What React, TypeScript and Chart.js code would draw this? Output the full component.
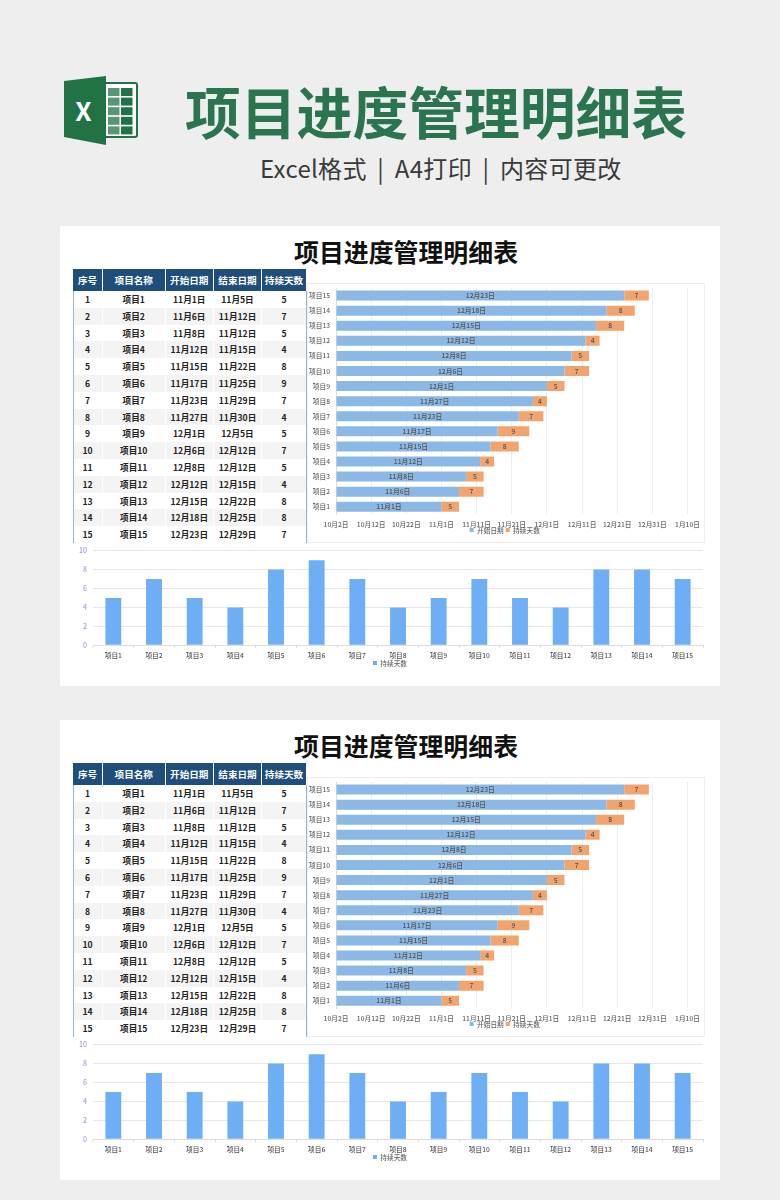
import React, { useEffect, useRef } from "react";
import { Chart, registerables } from "chart.js";

Chart.register(...registerables);

const FONT = "'Noto Sans CJK SC', 'Noto Sans', sans-serif";

const projects = ["项目1", "项目2", "项目3", "项目4", "项目5", "项目6", "项目7", "项目8", "项目9", "项目10", "项目11", "项目12", "项目13", "项目14", "项目15"];
const startLabels = ["11月1日", "11月6日", "11月8日", "11月12日", "11月15日", "11月17日", "11月23日", "11月27日", "12月1日", "12月6日", "12月8日", "12月12日", "12月15日", "12月18日", "12月23日"];
const endLabels = ["11月5日", "11月12日", "11月12日", "11月15日", "11月22日", "11月25日", "11月29日", "11月30日", "12月5日", "12月12日", "12月12日", "12月15日", "12月22日", "12月25日", "12月29日"];
// days counted from 10月2日, the start of the gantt axis
const startDays = [30, 35, 37, 41, 44, 46, 52, 56, 60, 65, 67, 71, 74, 77, 82];
const durations = [5, 7, 5, 4, 8, 9, 7, 4, 5, 7, 5, 4, 8, 8, 7];
const ganttTicks = ["10月2日", "10月12日", "10月22日", "11月1日", "11月11日", "11月21日", "12月1日", "12月11日", "12月21日", "12月31日", "1月10日"];
const tableHead = ["序号", "项目名称", "开始日期", "结束日期", "持续天数"];
const columnEdges = [[73, 102], [103, 164.5], [165.5, 213], [214, 261], [262, 306]];

const ganttLabels = {
  id: "ganttLabels",
  afterDatasetsDraw(chart: any) {
    const { ctx } = chart;
    ctx.save();
    ctx.font = `500 6.8px ${FONT}`;
    ctx.fillStyle = "#555555";
    ctx.textAlign = "center";
    ctx.textBaseline = "middle";
    chart.data.datasets.forEach((ds: any, di: number) => {
      chart.getDatasetMeta(di).data.forEach((el: any, i: number) => {
        const p = el.getCenterPoint();
        ctx.fillText(di === 0 ? startLabels[i] : String(ds.data[i]), p.x, p.y);
      });
    });
    ctx.restore();
  },
};

// The reference's legend sits right under (almost on) the tick labels.
const legendShift = (offset: number, dx: number) => ({
  id: "legendShift",
  afterLayout(chart: any) {
    chart.legend.top = chart.chartArea.bottom + offset;
    chart.legend.left += dx;
    chart.legend.right += dx;
  },
});

function Gantt({ top }: { top: number }) {
  const ref = useRef<HTMLCanvasElement>(null);
  useEffect(() => {
    const chart = new Chart(ref.current!, {
      type: "bar",
      data: {
        labels: projects,
        datasets: [
          { label: "开始日期", data: startDays, backgroundColor: "#8bb8e4", barPercentage: 0.66, categoryPercentage: 1 },
          { label: "持续天数", data: durations, backgroundColor: "#f2a46e", barPercentage: 0.66, categoryPercentage: 1 },
        ],
      },
      options: {
        indexAxis: "y",
        responsive: false,
        animation: false,
        layout: { padding: { left: 0, right: 16.5, top: 3.4, bottom: 0 } },
        plugins: {
          tooltip: { enabled: false },
          legend: {
            position: "bottom",
            labels: { boxWidth: 4, boxHeight: 4, padding: 2, color: "#666666", font: { family: FONT, size: 6.7, weight: 500 } },
          },
        },
        scales: {
          x: {
            type: "linear",
            stacked: true,
            min: 0,
            max: 100,
            afterFit: (s: any) => { s.height = 16; },
            border: { display: false },
            grid: { color: "#eeeeee", tickColor: "rgba(0,0,0,0)", tickLength: 6 },
            ticks: {
              stepSize: 10,
              autoSkip: false,
              maxRotation: 0,
              padding: 0,
              color: "#666666",
              font: { family: FONT, size: 6.7, weight: 500 },
              callback: (v: any) => ganttTicks[Number(v) / 10],
            },
          },
          y: {
            stacked: true,
            reverse: true,
            afterFit: (s: any) => { s.width = 28; },
            border: { color: "#dddddd" },
            grid: { display: false, tickLength: 6 },
            ticks: { autoSkip: false, padding: 0, color: "#666666", font: { family: FONT, size: 6.7, weight: 500 } },
          },
        },
      } as any,
      plugins: [ganttLabels, legendShift(10.35, 7)],
    });
    return () => chart.destroy();
  }, []);
  return (
    <>
      <div style={{ position: "absolute", left: 307, top, width: 396, height: 258, border: "1px solid #eeeeee" }} />
      <canvas ref={ref} width={396} height={265} style={{ position: "absolute", left: 308, top: top + 1, display: "block" }} />
    </>
  );
}

function Columns({ top }: { top: number }) {
  const ref = useRef<HTMLCanvasElement>(null);
  useEffect(() => {
    const chart = new Chart(ref.current!, {
      type: "bar",
      data: {
        labels: projects,
        datasets: [{ label: "持续天数", data: durations, backgroundColor: "#6eaef5", barPercentage: 0.39, categoryPercentage: 1 }],
      },
      options: {
        responsive: false,
        animation: false,
        layout: { padding: { left: 0, right: 3, top: 4.7, bottom: 0 } },
        plugins: {
          tooltip: { enabled: false },
          legend: {
            position: "bottom",
            labels: { boxWidth: 4, boxHeight: 4, padding: 3, color: "#666666", font: { family: FONT, size: 6.7, weight: 500 } },
          },
        },
        scales: {
          x: {
            afterFit: (s: any) => { s.height = 16; },
            border: { color: "#dddddd" },
            grid: { drawOnChartArea: false, tickLength: 3, color: "#dddddd" },
            ticks: { autoSkip: false, maxRotation: 0, padding: 3.5, color: "#555555", font: { family: FONT, size: 6.7, weight: 500 } },
          },
          y: {
            min: 0,
            max: 10,
            afterFit: (s: any) => { s.width = 20; },
            border: { display: false },
            grid: { color: "#e6e6ec", tickColor: "rgba(0,0,0,0)", tickLength: 6 },
            ticks: { stepSize: 2, padding: 0, color: "#a79fe0", font: { family: FONT, size: 7, weight: 500 } },
          },
        },
      } as any,
      plugins: [legendShift(11.35, 2)],
    });
    return () => chart.destroy();
  }, []);
  return <canvas ref={ref} width={633} height={135} style={{ position: "absolute", left: 73, top, display: "block" }} />;
}

const cell = (left: number, right: number, top: number, height: number, extra: React.CSSProperties): React.CSSProperties => ({
  position: "absolute",
  left,
  top,
  width: right - left,
  height,
  lineHeight: `${height}px`,
  textAlign: "center",
  whiteSpace: "nowrap",
  ...extra,
});

function Table({ top }: { top: number }) {
  const rowH = 16.8;
  const bodyTop = top + 22;
  return (
    <>
      {tableHead.map((h, i) => (
        <div key={h} style={cell(columnEdges[i][0], columnEdges[i][1], top, 22, { background: "#1f4e7d", color: "#ffffff", fontWeight: 700, fontSize: 9.6 })}>{h}</div>
      ))}
      {projects.map((p, r) => {
        const vals = [String(r + 1), p, startLabels[r], endLabels[r], String(durations[r])];
        const y = bodyTop + r * rowH;
        return vals.map((v, c) => (
          <div key={c} style={cell(columnEdges[c][0], columnEdges[c][1], y, rowH, { background: r % 2 === 1 ? "#f4f4f4" : "#ffffff", color: "#222222", fontWeight: 700, fontSize: 8.6 })}>{v}</div>
        ));
      })}
      <div style={{ position: "absolute", left: 73, top: top + 22, width: 1, height: 252, background: "#9db4cd" }} />
      <div style={{ position: "absolute", left: 306, top: top + 22, width: 1, height: 252, background: "#9db4cd" }} />
    </>
  );
}

function Sheet({ top }: { top: number }) {
  return (
    <>
      <div style={{ position: "absolute", left: 60, top, width: 660, height: 460, background: "#ffffff" }} />
      <div style={{ position: "absolute", left: 294, top: top + 7, height: 36, lineHeight: "36px", fontSize: 24.9, fontWeight: 700, color: "#111111", whiteSpace: "nowrap" }}>项目进度管理明细表</div>
      <Table top={top + 43} />
      <Gantt top={top + 57} />
      <Columns top={top + 320} />
    </>
  );
}

function ExcelIcon() {
  return (
    <svg style={{ position: "absolute", left: 64, top: 75 }} width={74} height={72} viewBox="0 0 74 72">
      <rect x="40" y="8" width="33" height="54" rx="2" fill="#ffffff" stroke="#217346" strokeWidth="2" />
      {[0, 1, 2, 3, 4].map((r) => [0, 1].map((c) => (
        <rect key={`${r}-${c}`} x={44 + c * 13} y={13 + r * 9.6} width={11.5} height={8} fill="#217346" opacity={c === 0 ? 0.75 : 1} />
      )))}
      <polygon points="0,6 42,1 42,70 0,62" fill="#217346" />
      <text x="19.5" y="46" textAnchor="middle" fill="#ffffff" fontFamily={FONT} fontWeight={700} fontSize={26}>X</text>
    </svg>
  );
}

export default function App() {
  return (
    <div style={{ position: "absolute", left: 0, top: 0, width: 780, height: 1200, background: "#eeeeee", overflow: "hidden", fontFamily: FONT }}>
      <ExcelIcon />
      <div style={{ position: "absolute", left: 185, top: 70, width: 520, height: 80, lineHeight: "80px", fontSize: 55.8, fontWeight: 700, color: "#2a7450", whiteSpace: "nowrap" }}>项目进度管理明细表</div>
      <div style={{ position: "absolute", left: 260, top: 150, width: 420, height: 36, lineHeight: "36px", fontSize: 24, fontWeight: 400, letterSpacing: 0.3, wordSpacing: 5, color: "#3a3a3a", whiteSpace: "nowrap" }}>Excel格式 | A4打印 | 内容可更改</div>
      <Sheet top={226} />
      <Sheet top={720} />
    </div>
  );
}
